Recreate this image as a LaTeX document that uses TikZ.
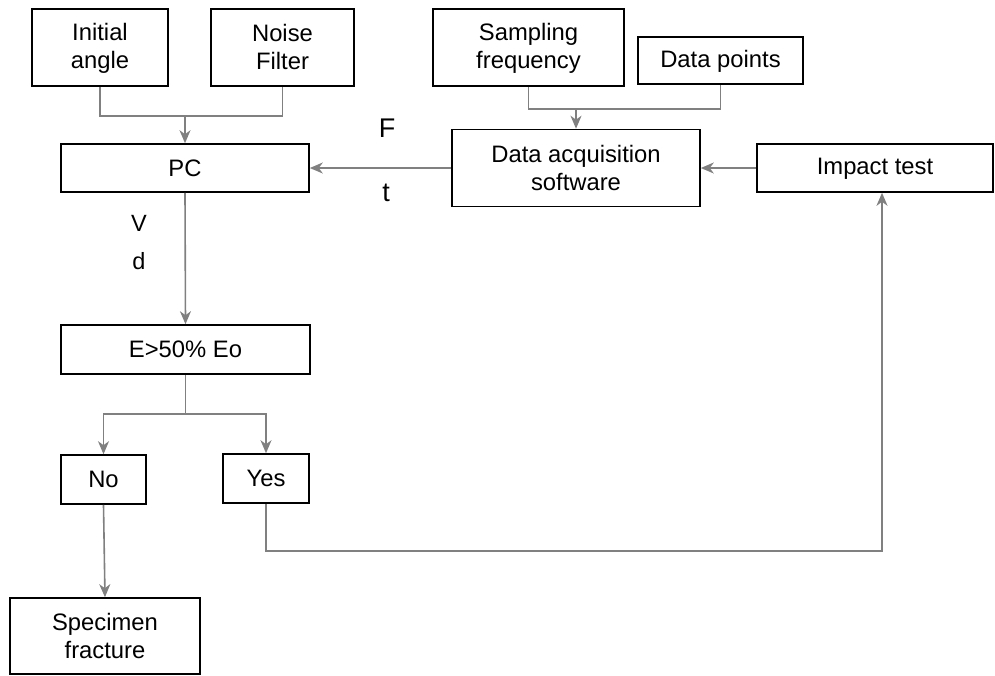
\documentclass[tikz,border=0pt]{standalone}
\usepackage{fontspec}
\setmainfont{Liberation Sans}
\usetikzlibrary{arrows.meta}
\definecolor{linkgray}{HTML}{808080}
% even strut so every line of box text sits on the same grid
\newcommand\lnstrut{\rule[-2pt]{0pt}{20pt}}
\tikzset{
  box/.style={draw=black, line width=1.6pt, fill=white, inner sep=0pt, align=center,
    font=\fontsize{23.8}{28}\selectfont},
  link/.style={draw=linkgray, line width=1.6pt},
  arr/.style={link, -{Stealth[length=13pt,width=11pt,inset=4pt]}},
  lbl/.style={inner sep=0pt, font=\fontsize{23.5}{26}\selectfont},
  biglbl/.style={inner sep=0pt, font=\fontsize{27}{30}\selectfont}
}
\begin{document}
\begin{tikzpicture}[x=1pt, y=-1pt]
\useasboundingbox (0,0) rectangle (995,675);

% input boxes
\node[box, minimum width=136pt, minimum height=77pt] (init)  at (100,47.5)   {\lnstrut Initial\\\lnstrut angle};
\node[box, minimum width=143pt, minimum height=77pt] (noise) at (282.5,47.5) {\lnstrut Noise\\\lnstrut Filter};
\node[box, minimum width=191pt, minimum height=77pt] (samp)  at (528.5,47.5) {\lnstrut Sampling\\\lnstrut frequency};
\node[box, minimum width=165pt, minimum height=47pt] (datap) at (720.5,60.5) {\lnstrut Data points};

% main chain
\node[box, minimum width=248pt, minimum height=48pt] (pc)     at (185,168)   {\lnstrut PC};
\node[box, minimum width=248pt, minimum height=77pt] (daq)    at (576,168)   {\lnstrut Data acquisition\\\lnstrut software};
\node[box, minimum width=236pt, minimum height=48pt] (impact) at (875,168)   {\lnstrut Impact test};
\node[box, minimum width=249pt, minimum height=49pt] (energy) at (185.5,349.5) {\lnstrut E>50\% Eo};
\node[box, minimum width=85pt,  minimum height=49pt] (no)     at (103.5,479.5) {\lnstrut No};
\node[box, minimum width=86pt,  minimum height=49pt] (yes)    at (266,478.5) {\lnstrut Yes};
\node[box, minimum width=190pt, minimum height=76pt] (spec)   at (105,636)   {\lnstrut Specimen\\\lnstrut fracture};

% signal labels
\node[biglbl] (lf) at (387,128) {F};
\node[biglbl] (lt) at (386,193) {t};
\node[lbl] (lv) at (139,223) {V};
\node[lbl] (ld) at (139,261) {d};

% merge of the PC inputs
\coordinate (pcin) at (185,116);
\draw[link] (init.south) |- (pcin) -| (noise.south);
\draw[arr] (pcin) -- (pc.north);

% merge of the acquisition settings
\coordinate (daqin) at (576,109);
\draw[link] (samp.south) |- (daqin) -| (datap.south);
\draw[arr] (daqin) -- (daq.north);

% data flow
\draw[arr] (impact.west) -- (daq.east);
\draw[arr] (daq.west) -- (pc.east);
\draw[arr] (pc.south) -- (energy.north);

% decision branches
\coordinate (split) at (185.5,414);
\draw[link] (energy.south) -- (split);
\draw[arr] (split) -| (no.north);
\draw[arr] (split) -| (yes.north);
\draw[arr] (no.south) -- (spec.north);

% loop back to the impact test
\coordinate (loopa) at (266,551);
\coordinate (loopb) at (882,551);
\draw[arr] (yes.south) -- (loopa) -- (loopb) -- (loopb |- impact.south);
\end{tikzpicture}
\end{document}
